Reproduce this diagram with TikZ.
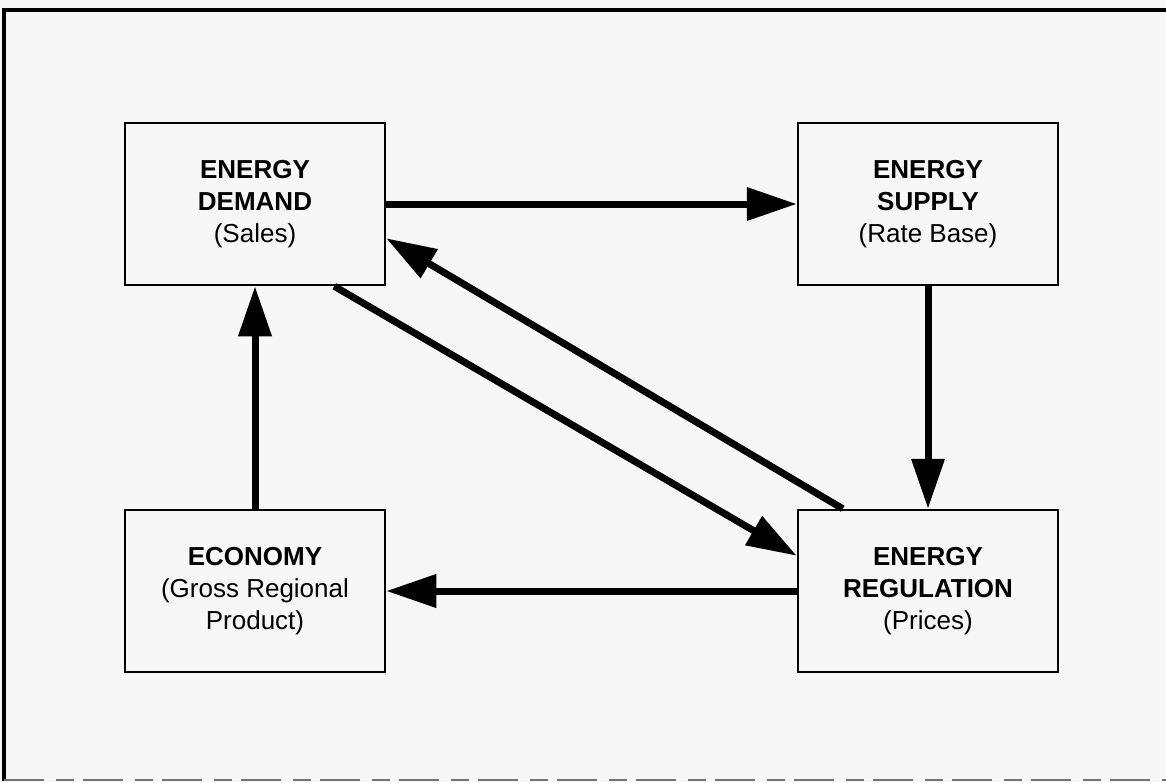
\documentclass[tikz,border=0pt]{standalone}
\usepackage{fontspec}
\setmainfont{Liberation Sans}
\usetikzlibrary{arrows.meta}
\definecolor{paper}{RGB}{247,247,247}

\begin{document}
\begin{tikzpicture}[x=1pt,y=-1pt]
	\fill[paper] (0,0) rectangle (1166,782);
	\useasboundingbox (0,0) rectangle (1166,782);
	% outer frame
	\draw[line width=3.5pt] (1166,10) -- (4,10) -- (4,781);
	\draw[line width=1.5pt, black!55, dash pattern=on 40pt off 12pt on 18pt off 9pt] (4,780) -- (1166,780);
	\begin{scope}[every node/.style = {draw, line width=2.5pt, minimum width=260pt, minimum height=162pt, inner sep=0pt, align=center, font=\fontsize{26}{32}\selectfont}]
		\node (demand) at (255,204) {\textbf{ENERGY}\\\textbf{DEMAND}\\(Sales)};
		\node (supply) at (928,204) {\textbf{ENERGY}\\\textbf{SUPPLY}\\(Rate Base)};
		\node (economy) at (255,591) {\textbf{ECONOMY}\\(Gross Regional\\Product)};
		\node (regulation) at (928,591) {\textbf{ENERGY}\\\textbf{REGULATION}\\(Prices)};
	\end{scope}
	\begin{scope}[line width=7pt, >={Triangle[length=50pt, width=32pt]}]
		\draw[->] (demand) -- (supply);
		\draw[->] (supply) -- (regulation);
		\draw[->] (regulation) -- (economy);
		\draw[->] (economy) -- (demand);
		\draw[->] ([xshift=-52pt]demand.south east) -- ([yshift=-47pt]regulation.north west);
		\draw[->] ([xshift=46pt]regulation.north west) -- ([yshift=48pt]demand.south east);
	\end{scope}
\end{tikzpicture}
\end{document}
